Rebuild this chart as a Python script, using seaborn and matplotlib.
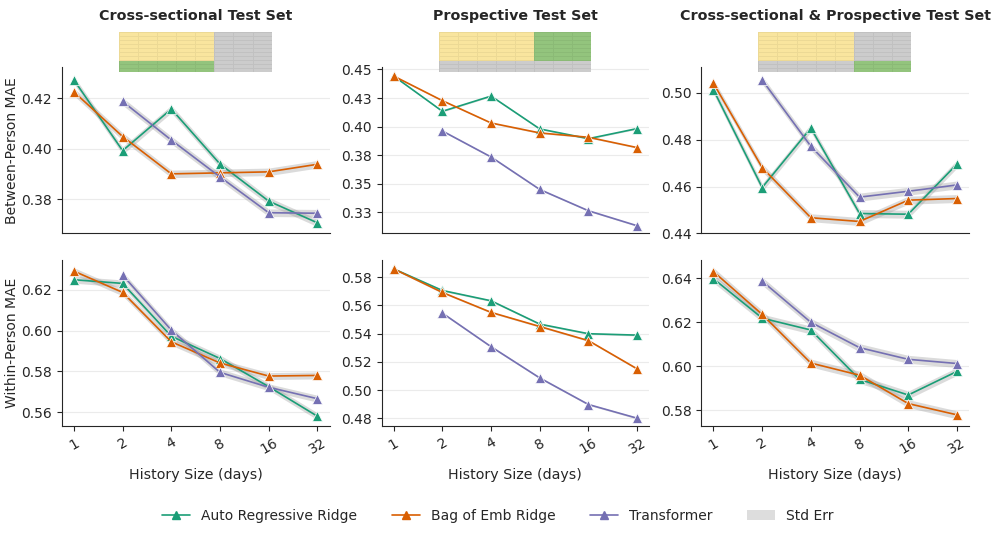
import numpy as np
import pandas as pd
import matplotlib
matplotlib.use("Agg")
import matplotlib.pyplot as plt
import seaborn as sns
from matplotlib.colors import ListedColormap
from matplotlib.patches import Patch
from matplotlib.lines import Line2D
from matplotlib.ticker import MultipleLocator, FuncFormatter

# History sizes (days) and models
history = ["1", "2", "4", "8", "16", "32"]
models = ["Auto Regressive Ridge", "Bag of Emb Ridge", "Transformer"]
panel_titles = ["Cross-sectional Test Set", "Prospective Test Set",
                "Cross-sectional & Prospective Test Set"]
row_labels = ["Between-Person MAE", "Within-Person MAE"]
nan = np.nan

# Between-person MAE
btw_cs_ar = [0.4273, 0.3993, 0.4158, 0.3940, 0.3793, 0.3707]
btw_cs_bag = [0.4226, 0.4049, 0.3901, 0.3905, 0.3909, 0.3939]
btw_cs_tf = [nan, 0.4188, 0.4035, 0.3889, 0.3747, 0.3745]

btw_pr_ar = [0.4442, 0.4134, 0.4267, 0.3980, 0.3895, 0.3983]
btw_pr_bag = [0.4442, 0.4227, 0.4032, 0.3945, 0.3907, 0.3817]
btw_pr_tf = [nan, 0.3962, 0.3735, 0.3451, 0.3265, 0.3134]

btw_both_ar = [0.5013, 0.4596, 0.4850, 0.4485, 0.4482, 0.4696]
btw_both_bag = [0.5041, 0.4681, 0.4467, 0.4451, 0.4542, 0.4549]
btw_both_tf = [nan, 0.5055, 0.4772, 0.4555, 0.4580, 0.4607]

# Within-person MAE
win_cs_ar = [0.6249, 0.6231, 0.5972, 0.5863, 0.5725, 0.5580]
win_cs_bag = [0.6291, 0.6187, 0.5945, 0.5841, 0.5777, 0.5780]
win_cs_tf = [nan, 0.6272, 0.6002, 0.5795, 0.5722, 0.5666]

win_pr_ar = [0.5859, 0.5706, 0.5633, 0.5468, 0.5400, 0.5390]
win_pr_bag = [0.5859, 0.5692, 0.5551, 0.5451, 0.5351, 0.5151]
win_pr_tf = [nan, 0.5546, 0.5308, 0.5087, 0.4899, 0.4802]

win_both_ar = [0.6397, 0.6218, 0.6164, 0.5940, 0.5869, 0.5976]
win_both_bag = [0.6429, 0.6235, 0.6014, 0.5959, 0.5830, 0.5779]
win_both_tf = [nan, 0.6386, 0.6199, 0.6084, 0.6031, 0.6012]

# standard errors (one per model, per panel)
se_btw = [[0.0015, 0.0015, 0.0015], [0.0006, 0.0006, 0.0006], [0.0017, 0.0017, 0.0017]]
se_win = [[0.0017, 0.0017, 0.0017], [0.0006, 0.0006, 0.0006], [0.0018, 0.0018, 0.0018]]

values = [
    [[btw_cs_ar, btw_cs_bag, btw_cs_tf], [btw_pr_ar, btw_pr_bag, btw_pr_tf],
     [btw_both_ar, btw_both_bag, btw_both_tf]],
    [[win_cs_ar, win_cs_bag, win_cs_tf], [win_pr_ar, win_pr_bag, win_pr_tf],
     [win_both_ar, win_both_bag, win_both_tf]],
]
std_errs = [se_btw, se_win]

ylims = [[(0.3665, 0.4324), (0.3067, 0.452), (0.440, 0.511)],
         [(0.5533, 0.6348), (0.4748, 0.5925), (0.5729, 0.6484)]]
ysteps = [[0.02, 0.025, 0.02], [0.02, 0.02, 0.02]]

# train / test split schematics: 0 = train, 1 = test, 2 = unused
split_cs = [[0, 0, 0, 0, 0, 2, 2, 2]] * 7 + [[1, 1, 1, 1, 1, 2, 2, 2]] * 3
split_pr = [[0, 0, 0, 0, 0, 1, 1, 1]] * 7 + [[2, 2, 2, 2, 2, 2, 2, 2]] * 3
split_both = [[0, 0, 0, 0, 0, 2, 2, 2]] * 7 + [[2, 2, 2, 2, 2, 1, 1, 1]] * 3
splits = [split_cs, split_pr, split_both]

palette = dict(zip(models, ["#1b9e77", "#d95f02", "#7570b3"]))
split_cmap = ListedColormap(["#f9e59e", "#93c47d", "#cccccc"])

sns.set_style("ticks")
plt.rcParams['font.family'] = ['DejaVu Sans']

fig, axes = plt.subplots(2, 3, figsize=(9.96, 5.37), dpi=100)
fig.subplots_adjust(left=0.062, right=0.973, top=0.875, bottom=0.207,
                    wspace=0.194, hspace=0.157)

xpos = np.arange(len(history))
fmt = FuncFormatter(lambda v, p: f"{v + 1e-9:.2f}")

for r in range(2):
    for c in range(3):
        ax = axes[r, c]
        rows = []
        for m, name in enumerate(models):
            y = np.array(values[r][c][m], dtype=float)
            se = std_errs[r][c][m]
            ax.fill_between(xpos, y - se, y + se, color="#999999", alpha=0.35,
                            lw=0, zorder=1)
            for xi, yi in zip(xpos, y):
                rows.append({"x": xi, "mae": yi, "model": name})
        df = pd.DataFrame(rows).dropna()
        sns.lineplot(data=df, x="x", y="mae", hue="model", palette=palette,
                     marker="^", markersize=7, linewidth=1.2, markeredgewidth=0.5,
                     errorbar=None, legend=False, ax=ax, zorder=3)
        ax.set_xlim(-0.25, 5.25)
        ax.set_ylim(*ylims[r][c])
        ax.yaxis.set_major_locator(MultipleLocator(ysteps[r][c]))
        ax.yaxis.set_major_formatter(fmt)
        ax.grid(axis="y", color="#ebebeb", lw=0.8, zorder=0)
        ax.set_axisbelow(True)
        ax.tick_params(labelsize=10)
        sns.despine(ax=ax)
        ax.set_xticks(xpos)
        if r == 0:
            ax.set_xticklabels([])
            ax.tick_params(axis="x", length=0)
            ax.set_xlabel("")
            ax.set_title(panel_titles[c], fontweight="bold", fontsize=10.3, y=1.235)
            ins = ax.inset_axes([0.213, 0.97, 0.571, 0.24])
            ins.pcolormesh(np.array(splits[c])[::-1], cmap=split_cmap, vmin=-0.5,
                           vmax=2.5, edgecolors=(0, 0, 0, 0.05), linewidth=0.4)
            ins.set_axis_off()
        else:
            ax.set_xticklabels(history, rotation=30)
            ax.set_xlabel("History Size (days)", fontsize=10.3, labelpad=8)
        ax.set_ylabel(row_labels[r] if c == 0 else "", fontsize=10, labelpad=2)

handles = [Line2D([0], [0], color=palette[m], marker="^", markersize=6, lw=1.2)
           for m in models]
handles.append(Patch(facecolor="#dddddd", edgecolor="none"))
fig.legend(handles, models + ["Std Err"], loc="center", bbox_to_anchor=(0.5, 0.04),
           ncol=4, frameon=False, fontsize=10, columnspacing=2.5, handlelength=2)

fig.savefig("out.png", dpi=100)
